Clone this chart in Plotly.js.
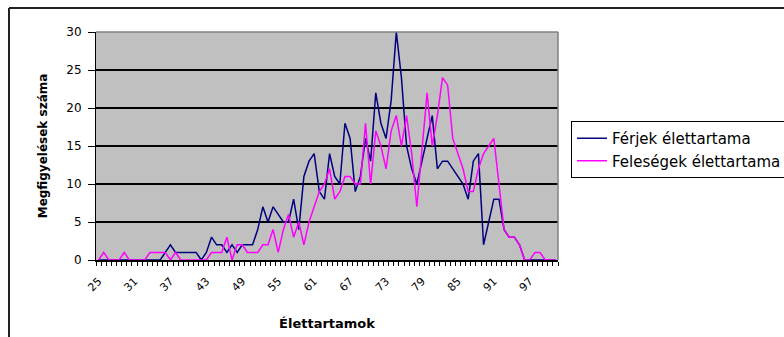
<!DOCTYPE html>
<html><head><meta charset="utf-8">
<script src="https://cdn.plot.ly/plotly-3.0.1.min.js"></script>
<style>html,body{margin:0;padding:0;background:#fff;}#chart{width:784px;height:337px;}</style>
</head><body><div id="chart"></div>
<script>
// Tick labels shown every 7th category on the x axis
const xLabels = ['25','31','37','43','49','55','61','67','73','79','85','91','97'];
const labelStep = 7;
const seriesNames = ['Férjek élettartama', 'Feleségek élettartama'];

// Férjek élettartama (husbands) — counts per category
const ferjek = [
  0,0,0,0,0,0,0,0,0,0,
  0,0,0,1,2,1,1,1,1,1,
  0,1,3,2,2,1,2,1,2,2,
  2,4,7,5,7,6,5,5,8,4,
  11,13,14,9,8,14,11,10,18,16,
  9,11,16,13,22,18,16,21,30,24,
  15,12,10,13,16,19,12,13,13,12,
  11,10,8,13,14,2,5,8,8,4,
  3,3,2,0,0,0,0,0,0,0
];
// Feleségek élettartama (wives) — counts per category
const felesegek = [
  0,1,0,0,0,1,0,0,0,0,
  1,1,1,1,0,1,0,0,0,0,
  0,0,1,1,1,3,0,2,2,1,
  1,1,2,2,4,1,4,6,3,5,
  2,5,7,9,10,12,8,9,11,11,
  10,10,18,10,17,15,12,17,19,15,
  19,14,7,14,22,15,19,24,23,16,
  14,12,9,9,12,14,15,16,10,4,
  3,3,2,0,0,1,1,0,0,0
];

const idx = ferjek.map((_, i) => i);
const FONT = 'DejaVu Sans, Arial, sans-serif';

const traces = [
  {x: idx, y: ferjek, name: seriesNames[0], type: 'scatter', mode: 'lines',
   line: {color: '#000080', width: 1.5}},
  {x: idx, y: felesegek, name: seriesNames[1], type: 'scatter', mode: 'lines',
   line: {color: '#FF00FF', width: 1.5}}
];

const L = 96, R = 558, T = 32, B = 260, W = 784, H = 337;
const px = v => (v - L) / (R - L);
const py = v => (B - v) / (B - T);

const layout = {
  width: W, height: H,
  margin: {l: L, r: W - R, t: T, b: H - B, autoexpand: false},
  paper_bgcolor: '#ffffff', plot_bgcolor: '#C0C0C0',
  font: {family: FONT, size: 11, color: '#000'},
  showlegend: true,
  legend: {x: px(571), xanchor: 'left', y: py(121), yanchor: 'top',
           bgcolor: '#ffffff', bordercolor: '#000', borderwidth: 1,
           font: {family: FONT, size: 15, color: '#000'}},
  xaxis: {
    range: [-0.5, ferjek.length - 0.5],
    tickmode: 'array',
    tickvals: xLabels.map((_, i) => i * labelStep),
    ticktext: xLabels,
    tickangle: -45,
    ticklabelstandoff: 9,
    ticks: '', showgrid: false, zeroline: false,
    showline: true, linecolor: '#000', linewidth: 1.5,
    tickfont: {family: FONT, size: 11, color: '#000'},
    minor: {tickmode: 'linear', tick0: -0.5, dtick: 1, ticks: 'outside', ticklen: 4,
            tickcolor: '#000', tickwidth: 1, showgrid: false},
    title: {text: 'Élettartamok', standoff: 26,
            font: {family: FONT, size: 13, weight: 'bold', color: '#000'}}
  },
  yaxis: {
    range: [0, 30], tickmode: 'linear', tick0: 0, dtick: 5,
    ticks: 'outside', ticklen: 7, tickcolor: '#000',
    ticklabelstandoff: 4,
    showgrid: true, gridcolor: '#000', gridwidth: 2,
    zeroline: false, showline: true, linecolor: '#000', linewidth: 1,
    tickfont: {family: FONT, size: 12, color: '#000'},
    title: {text: 'Megfigyelések száma', standoff: 16,
            font: {family: FONT, size: 12, weight: 'bold', color: '#000'}}
  },
  shapes: [
    {type: 'line', xref: 'paper', yref: 'paper', x0: 0, x1: 1, y0: 1, y1: 1,
     line: {color: '#808080', width: 1.5}},
    {type: 'line', xref: 'paper', yref: 'paper', x0: 1, x1: 1, y0: 0, y1: 1,
     line: {color: '#808080', width: 1.5}},
    {type: 'line', xref: 'paper', yref: 'paper', x0: px(9), x1: px(9), y0: py(8), y1: py(345),
     line: {color: '#222', width: 2}},
    {type: 'line', xref: 'paper', yref: 'paper', x0: px(9), x1: px(800), y0: py(8), y1: py(8),
     line: {color: '#222', width: 2}}
  ]
};

Plotly.newPlot('chart', traces, layout, {staticPlot: true, displayModeBar: false});
</script>
</body></html>
